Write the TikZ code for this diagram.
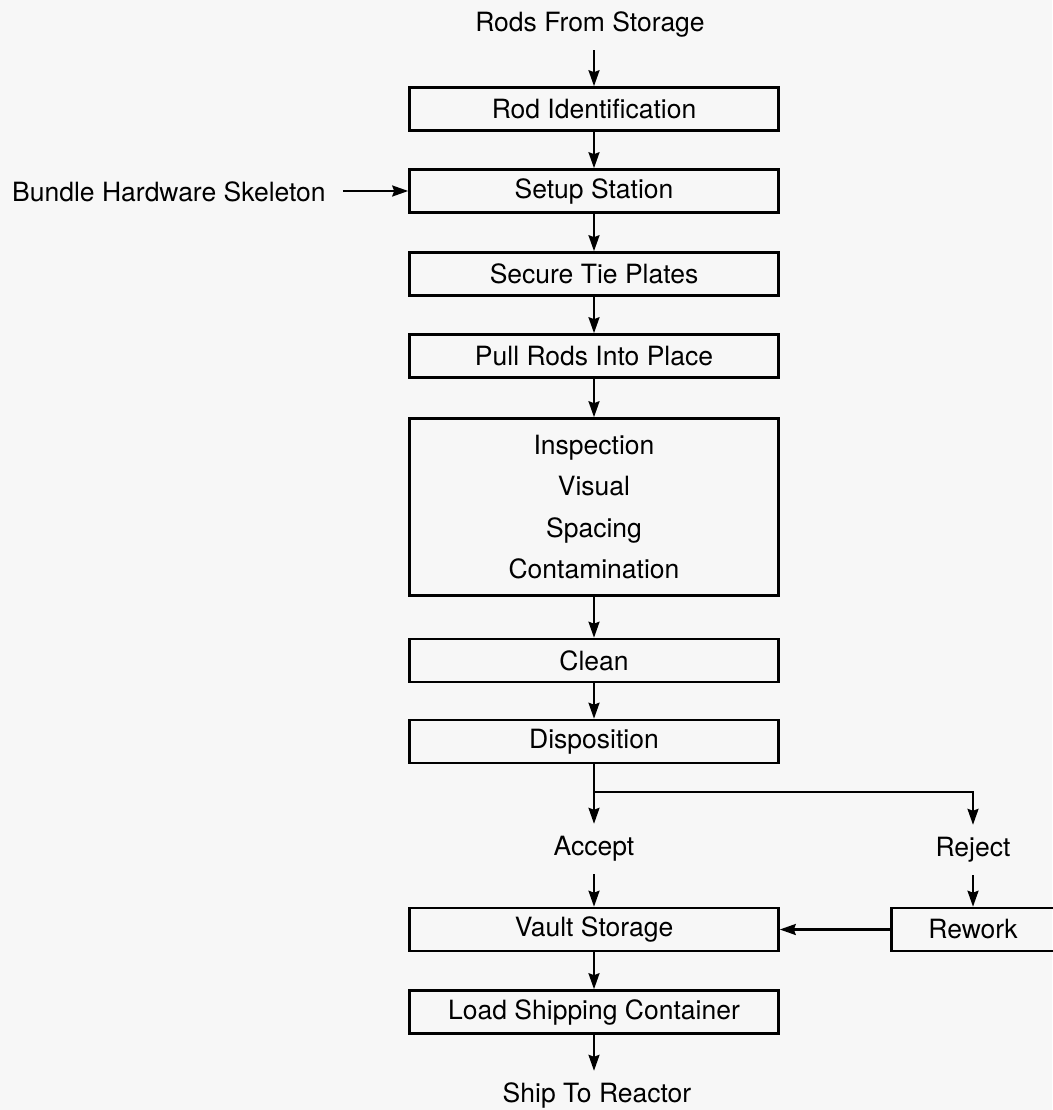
\documentclass[tikz,border=0pt]{standalone}
\usepackage{fontspec}
\setmainfont{TeX Gyre Heros}
\usetikzlibrary{arrows.meta}
\newcommand\figfont{\fontsize{26.5}{32}\selectfont}
\newcommand\inspfont{\fontsize{26.5}{41.5}\selectfont}
\begin{document}
\begin{tikzpicture}[x=1pt,y=-1pt,
  box/.style={draw, line width=2.6pt, minimum width=369pt, minimum height=43pt, inner sep=0pt, font=\figfont},
  lbl/.style={font=\figfont, text height=19pt, text depth=6pt, inner xsep=0pt, inner ysep=12.5pt},
  arr/.style={line width=2.2pt, -{Stealth[length=16pt,width=11pt,inset=2pt]}},
  ln/.style={line width=2.2pt}]
\path[use as bounding box, fill=black!3] (0,0) rectangle (1052,1110);

% labels
\node[lbl] (rfs) at (590,25) {Rods From Storage};
\node[lbl, anchor=west] (bhs) at (12,195) {Bundle Hardware Skeleton};
\node[lbl] (acc) at (594,849) {Accept};
\node[lbl] (rej) at (973,850) {Reject};
\node[lbl] (ship) at (597,1096) {Ship To Reactor};

% boxes
\node[box] (rodid) at (594,109) {Rod Identification};
\node[box] (setup) at (594,191) {Setup Station};
\node[box] (secure) at (594,274) {Secure Tie Plates};
\node[box] (pull) at (594,356) {Pull Rods Into Place};
\node[box, minimum height=177pt, align=center, font=\inspfont] (insp) at (594,507)
  {Inspection\\Visual\\Spacing\\Contamination};
\node[box] (clean) at (594,660.5) {Clean};
\node[box] (disp) at (594,741.5) {Disposition};
\node[box] (vault) at (594,929.5) {Vault Storage};
\node[box] (load) at (594,1012) {Load Shipping Container};
\node[box, minimum width=163pt] (rework) at (973,929.5) {Rework};

\coordinate (j) at (594,792);

% connectors
\draw[arr] (rfs.south -| rodid.north) -- (rodid.north);
\draw[arr] (rodid) -- (setup);
\draw[arr, shorten <=17pt] (bhs.east |- setup.west) -- (setup.west);
\draw[arr] (setup) -- (secure);
\draw[arr] (secure) -- (pull);
\draw[arr] (pull) -- (insp);
\draw[arr] (insp) -- (clean);
\draw[arr] (clean) -- (disp);
\draw[ln] (disp.south) -- (j);
\draw[arr] (j) -- (acc.north -| j);
\draw[arr] (j) -| (rej.north);
\draw[arr] (acc.south -| vault.north) -- (vault.north);
\draw[arr] (rej.south) -- (rework.north);
\draw[arr] (rework.west) -- (vault.east);
\draw[arr] (vault) -- (load);
\draw[arr] (load.south) -- (ship.north -| load.south);
\end{tikzpicture}
\end{document}
